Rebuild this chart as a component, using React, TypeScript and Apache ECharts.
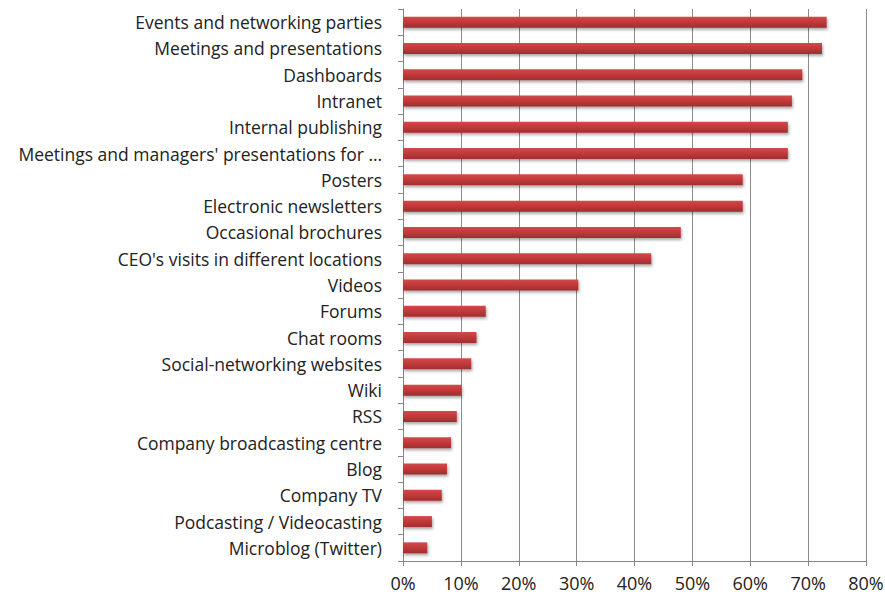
import React, { useEffect, useRef } from "react";
import * as echarts from "echarts";

const categories: string[] = [
  "Events and networking parties",
  "Meetings and presentations",
  "Dashboards",
  "Intranet",
  "Internal publishing",
  "Meetings and managers' presentations for …",
  "Posters",
  "Electronic newsletters",
  "Occasional brochures",
  "CEO's visits in different locations",
  "Videos",
  "Forums",
  "Chat rooms",
  "Social-networking websites",
  "Wiki",
  "RSS",
  "Company broadcasting centre",
  "Blog",
  "Company TV",
  "Podcasting / Videocasting",
  "Microblog (Twitter)",
];

const values: number[] = [
  73.2, 72.4, 69.0, 67.2, 66.5, 66.5, 58.7, 58.7, 48.0, 42.9, 30.3,
  14.3, 12.7, 11.8, 10.1, 9.3, 8.3, 7.6, 6.7, 5.0, 4.2,
];

const tickValues: number[] = [0, 10, 20, 30, 40, 50, 60, 70, 80];

export default function App() {
  const ref = useRef<HTMLDivElement>(null);
  useEffect(() => {
    if (!ref.current) return;
    const chart = echarts.init(ref.current, null, { renderer: "svg" });
    const font = "'Open Sans', sans-serif";
    chart.setOption({
      animation: false,
      backgroundColor: "#ffffff",
      grid: {
        left: 403,
        right: 19,
        top: 9,
        bottom: 36,
        containLabel: false,
        outerBoundsMode: "none",
      },
      xAxis: {
        type: "value",
        min: tickValues[0],
        max: tickValues[tickValues.length - 1],
        interval: 10,
        axisLine: { show: true, lineStyle: { color: "#868686", width: 1 } },
        axisTick: { show: true, length: 5, lineStyle: { color: "#868686" } },
        splitLine: { show: true, lineStyle: { color: "#8c8c8c", width: 1 } },
        axisLabel: {
          formatter: (v: number) => `${v}%`,
          color: "#222222",
          fontFamily: font,
          fontSize: 18,
          margin: 13,
        },
      },
      yAxis: {
        type: "category",
        data: categories,
        inverse: true,
        axisLine: { show: true, lineStyle: { color: "#868686", width: 1 } },
        axisTick: { show: true, length: 5, lineStyle: { color: "#868686" } },
        axisLabel: {
          color: "#222222",
          fontFamily: font,
          fontSize: 17.5,
          margin: 21,
          interval: 0,
        },
      },
      series: [
        {
          type: "bar",
          data: values,
          barWidth: 11,
          itemStyle: {
            color: new echarts.graphic.LinearGradient(0, 0, 0, 1, [
              { offset: 0, color: "#d24a4a" },
              { offset: 0.45, color: "#c33a3b" },
              { offset: 1, color: "#a02e2f" },
            ]),
            shadowBlur: 3,
            shadowOffsetX: 1,
            shadowOffsetY: 2,
            shadowColor: "rgba(0,0,0,0.35)",
          },
        },
      ],
    });
    return () => chart.dispose();
  }, []);
  return (
    <div
      ref={ref}
      style={{ position: "fixed", left: 0, top: 0, width: 885, height: 597 }}
    />
  );
}
